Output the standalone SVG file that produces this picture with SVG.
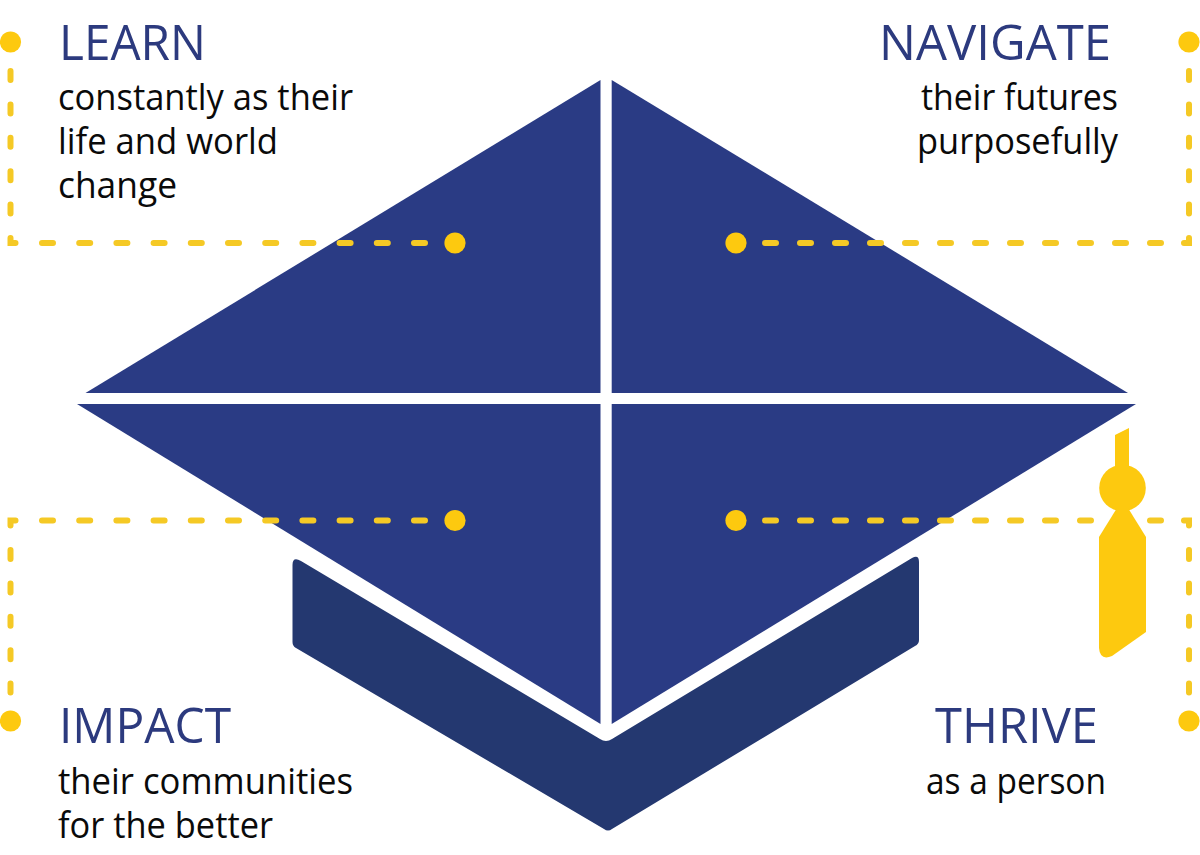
<svg xmlns="http://www.w3.org/2000/svg" width="1200" height="855" viewBox="0 0 1200 855">
<style>
.q{fill:#2a3b84}
.d{fill:none;stroke:#f5c925;stroke-width:6;stroke-linecap:round}
.v{stroke-dasharray:9 24.4}
.hl{stroke-dasharray:11 26.2}
.hr{stroke-dasharray:11 24}
.c{fill:#fdc90f}
.h{font:50px "Open Sans","Noto Sans",sans-serif;fill:#2c3a7e}
.b{font:36px "Open Sans","Noto Sans",sans-serif;fill:#0a0a0a}
</style>
<rect width="1200" height="855" fill="#fff"/>
<g id="cap">
<path class="q" d="M600.500 80V393H85.500Z"/>
<path class="q" d="M611.700 80V393H1128Z"/>
<path class="q" d="M600.500 404V724L77 404Z"/>
<path class="q" d="M611.700 404V724L1136 404Z"/>
<path fill="#243870" d="M292.500 565Q292.500 556 301 561L600 739Q606 743 612 739L912 558Q919 554 919 562V640Q919 644 915 646L612 829Q608 832 604 829L296 648Q292.500 646 292.500 642Z"/>
</g>
<g id="connectors">
<path class="d v" d="M10.500 71V220M10.500 550V696"/>
<path class="d v" d="M1189 71V220M1189 550V696"/>
<path class="d hl" d="M42 243H430M42 520.500H430"/>
<path class="d hr" d="M765 243H1165M765 520.500H1165"/>
<path class="d" d="M15.500 243H10.500V238M15.500 520.500H10.500V525.500M1184 243H1189V238M1184 520.500H1189V525.500"/>
</g>
<g id="tassel">
<path class="c" d="M1115 435L1129 428V470H1115Z"/>
<circle class="c" cx="1122.500" cy="488" r="23.300"/>
<path class="c" d="M1117 508H1128L1146 537V632L1112 656Q1100 661 1099 648V537Z"/>
</g>
<g id="learn">
<circle class="c" cx="10.500" cy="42" r="10.600"/><circle class="c" cx="455" cy="243" r="10.600"/>
<text class="h" x="59" y="60" textLength="147" lengthAdjust="spacingAndGlyphs">LEARN</text>
<text class="b" x="58" y="110" textLength="295" lengthAdjust="spacingAndGlyphs">constantly as their</text>
<text class="b" x="58" y="154" textLength="220" lengthAdjust="spacingAndGlyphs">life and world</text>
<text class="b" x="58" y="198" textLength="119" lengthAdjust="spacingAndGlyphs">change</text>
</g>
<g id="navigate">
<circle class="c" cx="1189" cy="42" r="10.600"/><circle class="c" cx="736" cy="243" r="10.600"/>
<text class="h" x="879" y="60" textLength="232" lengthAdjust="spacingAndGlyphs">NAVIGATE</text>
<text class="b" x="921" y="110" textLength="197" lengthAdjust="spacingAndGlyphs">their futures</text>
<text class="b" x="917" y="154" textLength="201" lengthAdjust="spacingAndGlyphs">purposefully</text>
</g>
<g id="impact">
<circle class="c" cx="10.500" cy="721" r="10.600"/><circle class="c" cx="455" cy="520.500" r="10.600"/>
<text class="h" x="59" y="743" textLength="172" lengthAdjust="spacingAndGlyphs">IMPACT</text>
<text class="b" x="58" y="794" textLength="295" lengthAdjust="spacingAndGlyphs">their communities</text>
<text class="b" x="58" y="838" textLength="215" lengthAdjust="spacingAndGlyphs">for the better</text>
</g>
<g id="thrive">
<circle class="c" cx="1189" cy="721" r="10.600"/><circle class="c" cx="736" cy="520.500" r="10.600"/>
<text class="h" x="935" y="743" textLength="163" lengthAdjust="spacingAndGlyphs">THRIVE</text>
<text class="b" x="926" y="794" textLength="180" lengthAdjust="spacingAndGlyphs">as a person</text>
</g>
</svg>
